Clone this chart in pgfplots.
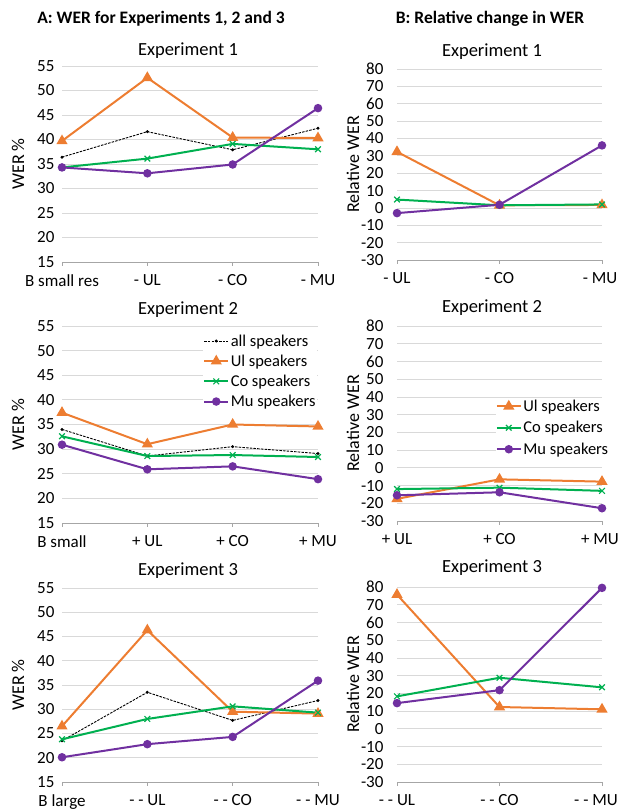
\documentclass[border=0pt]{standalone}
\usepackage{fontspec}
\setmainfont{Carlito}
\usepackage{pgfplots}
\pgfplotsset{compat=1.18}
\definecolor{ulc}{HTML}{ED7D31}
\definecolor{coc}{HTML}{00B050}
\definecolor{muc}{HTML}{7030A0}
\definecolor{gridc}{HTML}{D9D9D9}
\definecolor{axc}{HTML}{A6A6A6}
\pgfplotsset{
 base/.style={
  scale only axis, anchor=south west,
  xmin=0, xmax=3, xtick={0,1,2,3},
  axis x line*=bottom, axis y line*=left,
  y axis line style={draw=none},
  x axis line style={axc, line width=0.8pt},
  ytick style={draw=none},
  xtick style={axc, line width=0.8pt},
  tick align=outside, major tick length=4pt,
  ymajorgrids, grid style={gridc, line width=0.8pt},
  tick label style={font=\fontsize{17}{19}\selectfont},
  xticklabel style={yshift=-5pt},
  /pgf/number format/assume math mode=true,
  every axis y label/.style={at={(axis description cs:0,0.5)}, anchor=center, xshift=-44pt, rotate=90, font=\fontsize{18}{20}\selectfont},
  clip=false,
  legend image code/.code={\draw[mark repeat=2,mark phase=2,##1] plot coordinates {(0pt,0pt) (12pt,0pt) (24pt,0pt)};},
  legend style={draw=none, fill=white, inner sep=0pt, font=\fontsize{16.5}{18}\selectfont, row sep=4.2pt, nodes={inner sep=1.5pt}},
  legend cell align=left,
 },
 aax/.style={base, width=256pt, ymin=15, ymax=55, ytick={15,20,...,55}, ylabel={WER \%}},
 bax/.style={base, width=205pt, ymin=-30, ymax=80, ytick={-30,-20,...,80}, yticklabels={-30,-20,-10,0,10,20,30,40,50,60,70,80}, ylabel={Relative WER}, yticklabel style={xshift=-6pt}},
 all/.style={black, line width=0.9pt, dash pattern=on 2.5pt off 1.2pt, mark=*, mark size=1pt, mark options={solid}},
 ul/.style={ulc, line width=2pt, mark=triangle*, mark size=4.5pt, mark options={solid}},
 co/.style={coc, line width=2pt, mark=x, mark size=4pt, mark options={solid, line width=1.2pt}},
 mu/.style={muc, line width=2pt, mark=*, mark size=3.2pt},
}
\begin{document}
\begin{tikzpicture}
\useasboundingbox (0,0) rectangle (620pt,812pt);
\node[font=\bfseries\fontsize{17.5}{20}\selectfont] at (161pt,793pt) {A: WER for Experiments 1, 2 and 3};
\node[font=\bfseries\fontsize{17.5}{20}\selectfont] at (490pt,793pt) {B: Relative change in WER};
\node[font=\fontsize{18.5}{20}\selectfont] at (188pt,761pt) {Experiment 1};
\node[font=\fontsize{18.5}{20}\selectfont] at (492pt,760pt) {Experiment 1};
\node[font=\fontsize{18.5}{20}\selectfont] at (188pt,502pt) {Experiment 2};
\node[font=\fontsize{18.5}{20}\selectfont] at (492pt,504pt) {Experiment 2};
\node[font=\fontsize{18.5}{20}\selectfont] at (188pt,241pt) {Experiment 3};
\node[font=\fontsize{18.5}{20}\selectfont] at (492pt,244pt) {Experiment 3};

% A1
\begin{axis}[aax, at={(62pt,550pt)}, height=196pt, xticklabels={B small res,- UL,- CO,- MU}]
\addplot[all] coordinates {(0,36.4) (1,41.6) (2,37.9) (3,42.3)};
\addplot[ul] coordinates {(0,39.7) (1,52.6) (2,40.4) (3,40.3)};
\addplot[co] coordinates {(0,34.3) (1,36.1) (2,39.1) (3,38.0)};
\addplot[mu] coordinates {(0,34.3) (1,33.1) (2,34.9) (3,46.4)};
\end{axis}
% A2
\begin{axis}[aax, at={(62pt,289pt)}, height=197pt, xticklabels={B small,+ UL,+ CO,+ MU},
 legend style={at={(rel axis cs:0.551,0.965)}, anchor=north west}]
\addplot[all] coordinates {(0,34.0) (1,28.6) (2,30.5) (3,29.1)};
\addlegendentry{all speakers}
\addplot[ul] coordinates {(0,37.4) (1,31.0) (2,35.0) (3,34.6)};
\addlegendentry{Ul speakers}
\addplot[co] coordinates {(0,32.6) (1,28.6) (2,28.8) (3,28.4)};
\addlegendentry{Co speakers}
\addplot[mu] coordinates {(0,30.9) (1,25.9) (2,26.5) (3,23.9)};
\addlegendentry{Mu speakers}
\end{axis}
% A3
\begin{axis}[aax, at={(62pt,30pt)}, height=194pt, xticklabels={B large,- - UL,- - CO,- - MU}]
\addplot[all] coordinates {(0,23.5) (1,33.5) (2,27.7) (3,31.8)};
\addplot[ul] coordinates {(0,26.5) (1,46.3) (2,29.5) (3,29.1)};
\addplot[co] coordinates {(0,23.8) (1,28.0) (2,30.6) (3,29.3)};
\addplot[mu] coordinates {(0,20.1) (1,22.8) (2,24.3) (3,35.9)};
\end{axis}
% B1
\begin{axis}[bax, at={(397pt,552pt)}, height=191pt, xmax=2, xtick={0,1,2}, xticklabels={- UL,- CO,- MU\hspace*{4pt}}]
\addplot[ul] coordinates {(0,32.3) (1,1.5) (2,1.7)};
\addplot[co] coordinates {(0,4.8) (1,1.5) (2,2.0)};
\addplot[mu] coordinates {(0,-3.0) (1,1.8) (2,36.0)};
\end{axis}
% B2
\begin{axis}[bax, at={(397pt,291pt)}, height=195pt, xmax=2, xtick={0,1,2}, xticklabels={+ UL,+ CO,+ MU\hspace*{4pt}},
 legend style={at={(rel axis cs:0.481,0.63)}, anchor=north west, row sep=5.5pt}]
\addplot[ul] coordinates {(0,-17.5) (1,-6.5) (2,-7.8)};
\addlegendentry{Ul speakers}
\addplot[co] coordinates {(0,-12.0) (1,-11.2) (2,-13.0)};
\addlegendentry{Co speakers}
\addplot[mu] coordinates {(0,-15.5) (1,-13.8) (2,-22.8)};
\addlegendentry{Mu speakers}
\end{axis}
% B3
\begin{axis}[bax, at={(397pt,30pt)}, height=195pt, xmax=2, xtick={0,1,2}, xticklabels={- - UL,- - CO,- - MU\hspace*{12pt}}]
\addplot[ul] coordinates {(0,75.7) (1,12.3) (2,11.0)};
\addplot[co] coordinates {(0,18.3) (1,28.8) (2,23.4)};
\addplot[mu] coordinates {(0,14.5) (1,21.8) (2,79.5)};
\end{axis}
\end{tikzpicture}
\end{document}
